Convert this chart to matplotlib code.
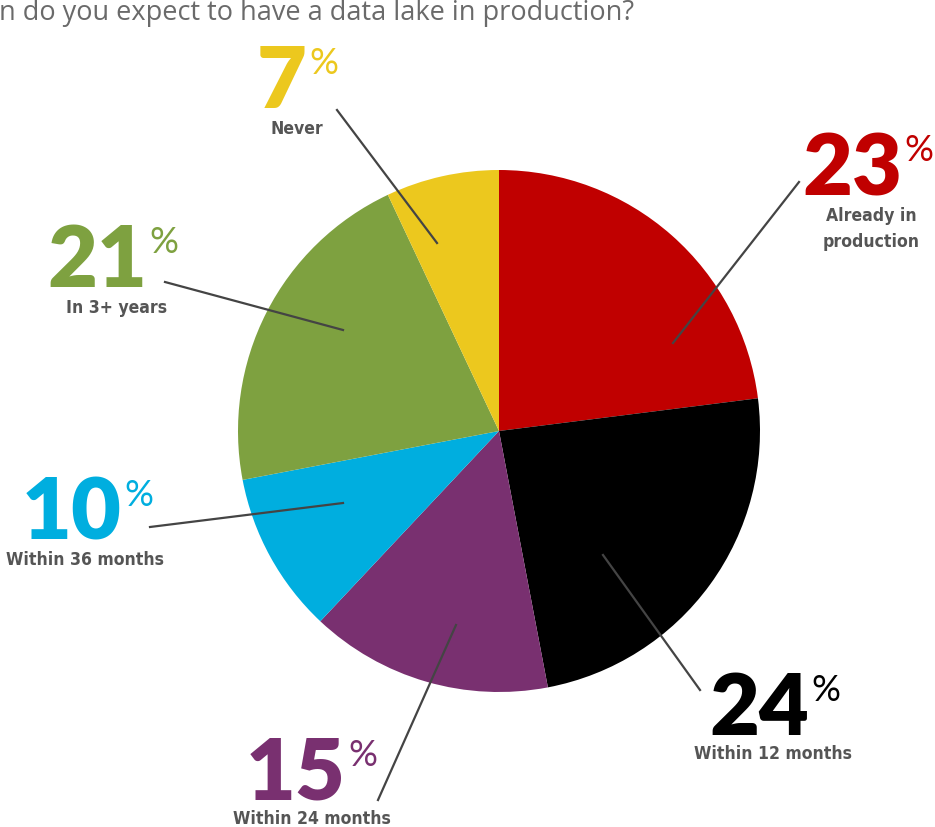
import matplotlib.pyplot as plt

# data
labels = ["Already in\nproduction", "Within 12 months", "Within 24 months",
          "Within 36 months", "In 3+ years", "Never"]
values = [23, 24, 15, 10, 21, 7]
colors = ["#C00000", "#000000", "#793070", "#00AEDF", "#7EA140", "#ECC81E"]
num_colors = ["#C00000", "#000000", "#793070", "#00AEDF", "#7EA140", "#ECC81E"]
title = "n do you expect to have a data lake in production?"

# layout (pixel coords, y from top)
W, H = 935, 827
cx, cy, rad = 499, 431, 261
num_pos = [(902, 195), (809, 735), (346, 800), (122, 540), (147, 287), (307, 108)]
lab_pos = [(871, 229), (773, 754), (312, 819), (85, 560), (117, 308), (297, 129)]
line_in = [(673, 343), (603, 555), (456, 625), (343, 503), (343, 330), (437, 243)]
line_out = [(799, 182), (700, 690), (378, 800), (150, 527), (165, 282), (337, 110)]

fig = plt.figure(figsize=(W / 100, H / 100), dpi=100)
ax = fig.add_axes([0, 0, 1, 1])

ax.pie(values, colors=colors, startangle=90, counterclock=False,
       center=(cx, H - cy), radius=rad, frame=True,
       wedgeprops=dict(linewidth=0))
ax.set_xlim(0, W)
ax.set_ylim(0, H)
ax.set_aspect("equal")
ax.axis("off")

for i, v in enumerate(values):
    (x0, y0), (x1, y1) = line_in[i], line_out[i]
    ax.plot([x0, x1], [H - y0, H - y1], color="#444444", lw=1.6, zorder=5)
    nx, ny = num_pos[i]
    ax.text(nx, H - ny, str(v), color=num_colors[i], fontsize=62,
            family="Lato", weight="heavy", ha="right", va="baseline")
    ax.text(nx + 2, H - ny + 61, "%", color=num_colors[i], fontsize=26,
            family="Lato", weight="normal", ha="left", va="top")
    lx, ly = lab_pos[i]
    ax.text(lx, H - ly, labels[i], color="#555555", fontsize=12.6,
            family="DejaVu Sans", stretch="condensed", weight="bold",
            ha="center", va="center", linespacing=1.55)

ax.text(-1, H - 13, title, color="#6a6a6a", fontsize=19.5, family="Open Sans",
        ha="left", va="center")

fig.savefig("out.png", dpi=100)
